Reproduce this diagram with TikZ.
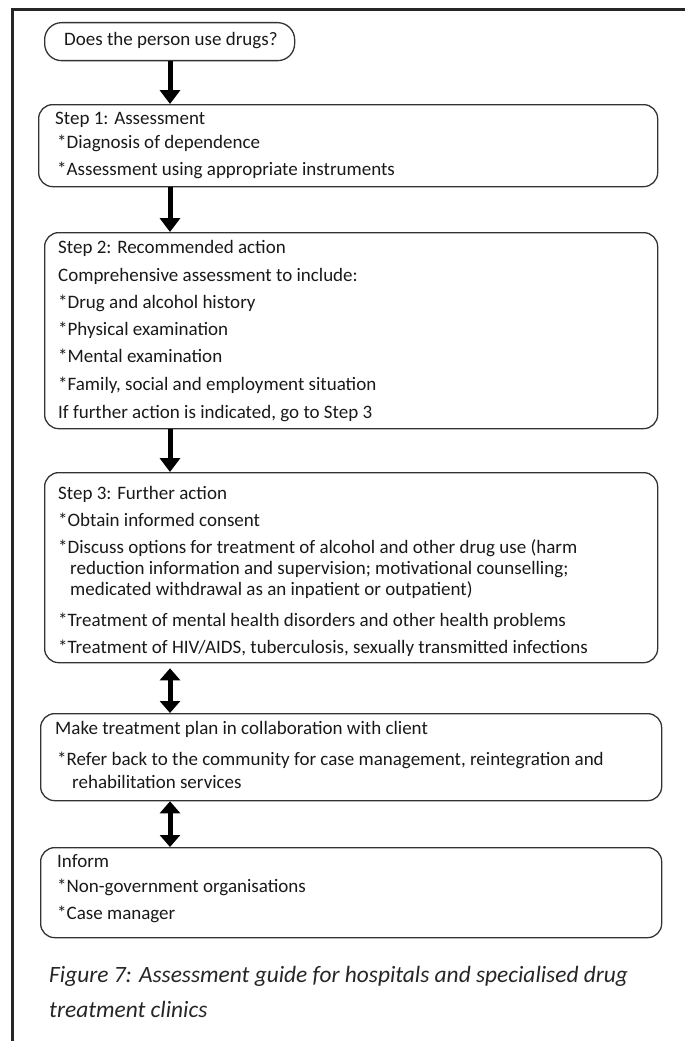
\documentclass[tikz,border=0pt]{standalone}
\usepackage{fontspec}
\setmainfont{Carlito}
\usetikzlibrary{arrows.meta}
\begin{document}
\begin{tikzpicture}[x=1pt,y=-1pt,
  box/.style={draw=black!80, line width=1.3pt, rounded corners=14pt, inner sep=0pt, anchor=north west},
  txt/.style={anchor=base west, inner sep=0pt, font=\fontsize{19}{22}\selectfont, text=black!90},
  captext/.style={anchor=base west, inner sep=0pt, font=\fontsize{23.4}{28}\selectfont\itshape, text=black!85},
  flow/.style={line width=5pt, -{Triangle[length=14pt,width=20pt]}},
  both/.style={line width=5pt, {Triangle[length=12pt,width=20pt]}-{Triangle[length=12pt,width=20pt]}},
]
\useasboundingbox (0,0) rectangle (685,1041);

% page frame
\draw[line width=3pt, black!85] (12,1041) -- (12,10) -- (685,10);

% boxes
\node[box, rounded corners=17pt, minimum width=250pt, minimum height=38pt] (start) at (44,22) {};
\node[box, minimum width=619pt, minimum height=82pt] (b1) at (38,104) {};
\node[box, minimum width=613pt, minimum height=196pt] (b2) at (44,232) {};
\node[box, minimum width=613pt, minimum height=190pt] (b3) at (44,472) {};
\node[box, minimum width=621pt, minimum height=87pt] (b4) at (40,713) {};
\node[box, minimum width=621pt, minimum height=90pt] (b5) at (40,847) {};

% texts
\node[txt] (q) at (64,46) {Does the person use drugs?};

\node[txt] (b1a) at (55,124) {Step 1: Assessment};
\node[txt] (b1b) at (57,148) {*Diagnosis of dependence};
\node[txt] (b1c) at (57,175) {*Assessment using appropriate instruments};

\node[txt] (b2a) at (58,253) {Step 2: Recommended action};
\node[txt] (b2b) at (58,281) {Comprehensive assessment to include:};
\node[txt] (b2c) at (58,308) {*Drug and alcohol history};
\node[txt] (b2d) at (58,335) {*Physical examination};
\node[txt] (b2e) at (58,362) {*Mental examination};
\node[txt] (b2f) at (58,390) {*Family, social and employment situation};
\node[txt] (b2g) at (58,418) {If further action is indicated, go to Step 3};

\node[txt] (b3a) at (58,499) {Step 3: Further action};
\node[txt] (b3b) at (58,526) {*Obtain informed consent};
\node[txt] (b3c) at (58,553) {*Discuss options for treatment of alcohol and other drug use (harm};
\node[txt] (b3d) at (70,574) {reduction information and supervision; motivational counselling;};
\node[txt] (b3e) at (70,595) {medicated withdrawal as an inpatient or outpatient)};
\node[txt] (b3f) at (58,626) {*Treatment of mental health disorders and other health problems};
\node[txt] (b3g) at (58,653) {*Treatment of HIV/AIDS, tuberculosis, sexually transmitted infections};

\node[txt] (b4a) at (55,734) {Make treatment plan in collaboration with client};
\node[txt] (b4b) at (57,765) {*Refer back to the community for case management, reintegration and};
\node[txt] (b4c) at (72,788) {rehabilitation services};

\node[txt] (b5a) at (57,867) {Inform};
\node[txt] (b5b) at (57,892) {*Non-government organisations};
\node[txt] (b5c) at (57,919) {*Case manager};

\node[captext] (c1) at (49,982) {Figure 7: Assessment guide for hospitals and specialised drug};
\node[captext] (c2) at (49,1017) {treatment clinics};

% connectors
\coordinate (ax) at (170,0);
\draw[flow] (ax |- start.south) -- (ax |- b1.north);
\draw[flow] (ax |- b1.south) -- (ax |- b2.north);
\draw[flow] (ax |- b2.south) -- (ax |- b3.north);
\draw[both, shorten <=5pt] (ax |- b3.south) -- (ax |- b4.north);
\draw[both] (ax |- b4.south) -- (ax |- b5.north);
\end{tikzpicture}
\end{document}
